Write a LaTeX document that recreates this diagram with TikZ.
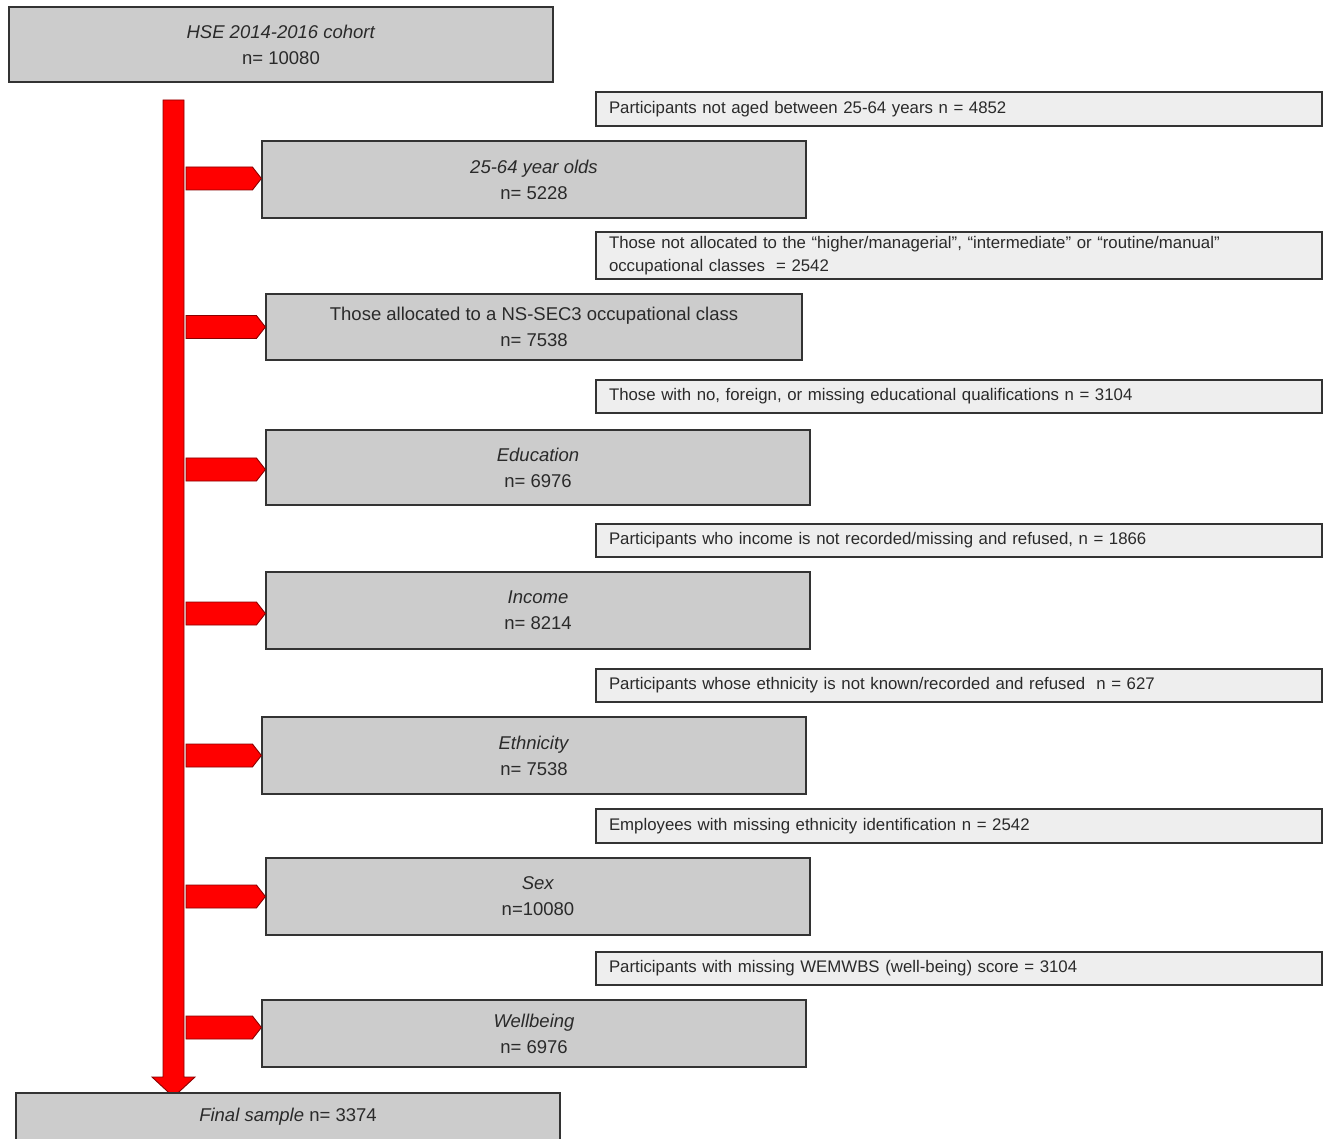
\documentclass[tikz,border=0pt]{standalone}
\usepackage{fontspec}
\setmainfont{Liberation Sans}
\usetikzlibrary{calc}
\definecolor{boxgray}{HTML}{CCCCCC}
\definecolor{sidegray}{HTML}{EEEEEE}
\definecolor{edge}{HTML}{333333}
\definecolor{txt}{HTML}{2A2A2A}
\definecolor{redfill}{HTML}{FF0000}
\definecolor{rededge}{HTML}{8A0000}
\begin{document}
\begin{tikzpicture}[x=1pt,y=-1pt,
  mainbox/.style={draw=edge,fill=boxgray,line width=1.2pt,align=center,inner sep=0pt,
    text=txt,font=\fontsize{18.5}{26}\selectfont,minimum width=544pt},
  sidebox/.style={draw=edge,fill=sidegray,line width=1.2pt,align=left,inner xsep=13pt,inner ysep=0pt,
    text=txt,font=\fontsize{16.8}{23}\selectfont,text width=700pt,minimum width=726pt},
  redarr/.style={fill=redfill,draw=rededge,line width=0.9pt,line join=miter}]
\clip (0,0) rectangle (1323,1139);
\fill[white] (0,0) rectangle (1323,1139);

% vertical bar
\coordinate (bt) at (173.5,100);
\coordinate (bb) at (173.5,1097);
\coordinate (barR) at (186,0);
\path[redarr] ($(bt)+(-10.5,0)$) -- ($(bt)+(10.5,0)$) -- ($(bb)+(10.5,-20)$) -- ($(bb)+(21.5,-20)$)
  -- (bb) -- ($(bb)+(-21.5,-20)$) -- ($(bb)+(-10.5,-20)$) -- cycle;

% main boxes
\node[mainbox,minimum height=75pt] (top) at (281,44.5) {\textit{HSE 2014-2016 cohort}\\n= 10080};
\node[mainbox,minimum height=77pt] (b1) at (534,179.5) {\textit{25-64 year olds}\\n= 5228};
\node[mainbox,minimum height=66pt,minimum width=536pt] (b2) at (534,327) {Those allocated to a NS-SEC3 occupational class\\n= 7538};
\node[mainbox,minimum height=75pt] (b3) at (538,467.5) {\textit{Education}\\n= 6976};
\node[mainbox,minimum height=77pt] (b4) at (538,610.5) {\textit{Income}\\n= 8214};
\node[mainbox,minimum height=77pt] (b5) at (534,755.5) {\textit{Ethnicity}\\n= 7538};
\node[mainbox,minimum height=77pt] (b6) at (538,896.5) {\textit{Sex}\\n=10080};
\node[mainbox,minimum height=67pt] (b7) at (534,1033.5) {\textit{Wellbeing}\\n= 6976};
\node[mainbox,minimum height=48pt] (final) at (288,1117) {\textit{Final sample} n= 3374};

% side boxes
\node[sidebox,minimum height=34pt] (s1) at (959,109) {\raisebox{-2pt}{Participants not aged between 25-64 years n = 4852}};
\node[sidebox,minimum height=47pt] (s2) at (959,255.5) {Those not allocated to the “higher/managerial”, “intermediate” or “routine/manual”\\occupational classes \ = 2542};
\node[sidebox,minimum height=33pt] (s3) at (959,396.5) {\raisebox{-2pt}{Those with no, foreign, or missing educational qualifications n = 3104}};
\node[sidebox,minimum height=33pt] (s4) at (959,540.5) {\raisebox{-2pt}{Participants who income is not recorded/missing and refused, n = 1866}};
\node[sidebox,minimum height=33pt] (s5) at (959,685.5) {\raisebox{-2pt}{Participants whose ethnicity is not known/recorded and refused \ n = 627}};
\node[sidebox,minimum height=34pt] (s6) at (959,826) {\raisebox{-2pt}{Employees with missing ethnicity identification n = 2542}};
\node[sidebox,minimum height=33pt] (s7) at (959,968.5) {\raisebox{-2pt}{Participants with missing WEMWBS (well-being) score = 3104}};

% side arrows
\foreach \X/\dy in {b1/-1,b2/0,b3/2,b4/3,b5/0,b6/0,b7/-6}{
  \path[redarr] ($(barR |- \X.west)+(0,-11.5+\dy)$) -- ($(\X.west)+(-9,-11.5+\dy)$) -- ($(\X.west)+(0,\dy)$)
    -- ($(\X.west)+(-9,11.5+\dy)$) -- ($(barR |- \X.west)+(0,11.5+\dy)$) -- cycle;
}
\end{tikzpicture}
\end{document}
